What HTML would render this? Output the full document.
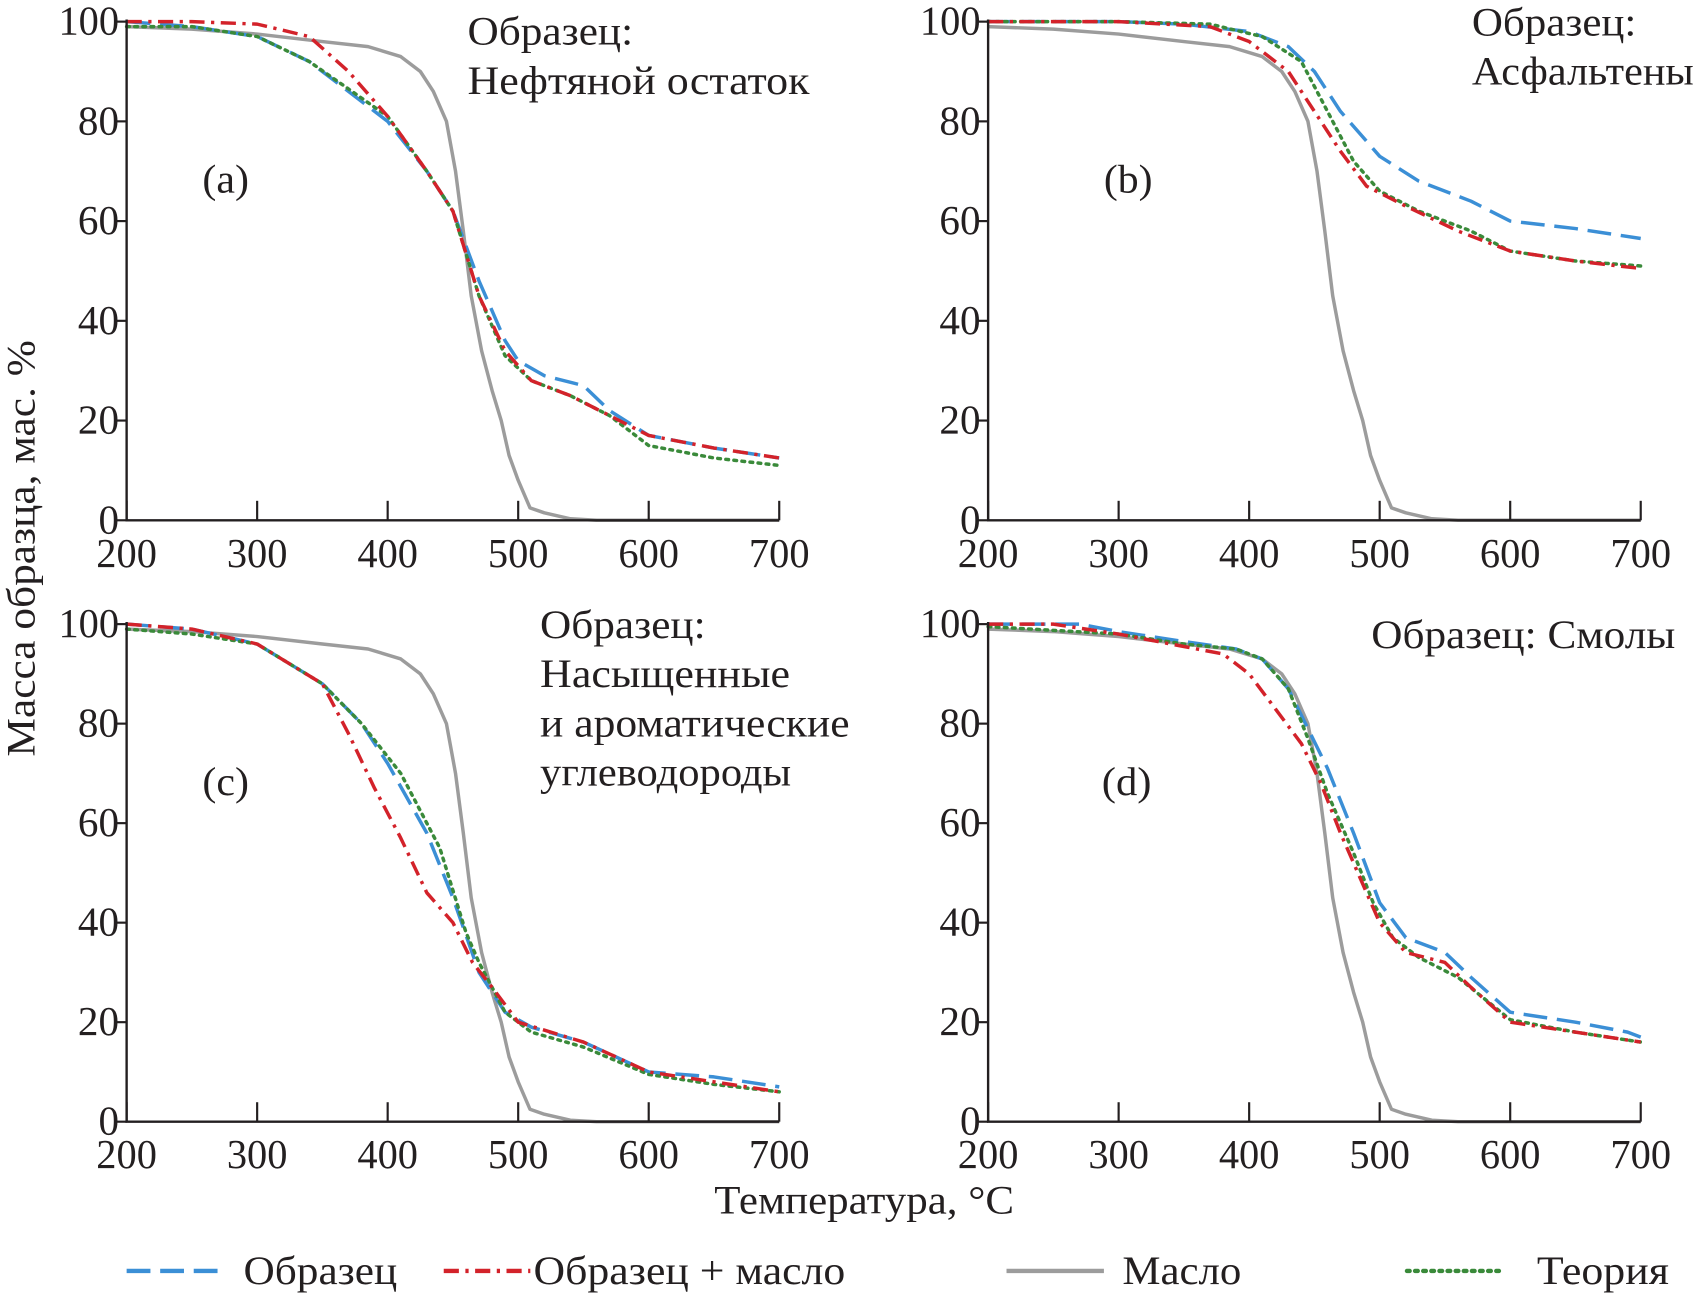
<!DOCTYPE html>
<html><head><meta charset="utf-8"><style>
html,body{margin:0;padding:0;background:#fff}
svg{display:block}
text{font-family:"Liberation Serif","DejaVu Serif",serif;fill:#231f20}
</style></head><body>
<svg id="chart" width="1697" height="1298" viewBox="0 0 1568 1200" preserveAspectRatio="none" xmlns="http://www.w3.org/2000/svg">
<g id="root"></g>
</svg>
<script>
const xTicks=[200,300,400,500,600,700];
const yTicks=[0,20,40,60,80,100];
const oilT=[200,250,300,350,385,410,425,435,445,452,458,464,472,480,487,493,500,509,520,540,560,700];
const oilV=[99,98.5,97.5,96,95,93,90,86,80,70,58,45,34,26,20,13,8,2.5,1.5,0.3,0,0];
const aBlueT=[200,250,300,340,400,430,450,470,490,500,520,550,570,600,650,700];
const aBlueV=[100,99,97,92,80,70,62,48,36,32,29,27,22,17,14.5,12.5];
const aRedT=[200,250,300,340,370,400,430,450,470,490,510,540,570,600,650,700];
const aRedV=[100,100,99.5,97,90,81,70,62,45,34,28,25,21,17,14.5,12.5];
const aGreenT=[200,250,300,340,400,430,450,470,490,510,540,570,600,650,700];
const aGreenV=[99,99,97,92,81,70,62,45,33,28,25,21,15,12.5,11];
const bBlueT=[200,300,350,400,430,450,470,500,530,570,600,650,700];
const bBlueV=[100,100,99.5,98,95,90,82,73,68,64,60,58.5,56.5];
const bRedT=[200,300,370,400,430,450,470,490,520,560,600,650,700];
const bRedV=[100,100,99,96,90,82,74,67,63,58,54,52,50.5];
const bGreenT=[200,300,370,410,440,460,480,500,530,570,600,650,700];
const bGreenV=[100,100,99.5,97,92,82,72,66,62,58,54,52,51];
const cBlueT=[200,250,300,350,380,400,430,450,470,490,510,550,600,650,700];
const cBlueV=[100,99,96,88,80,72,58,45,30,22,19,16,10,9,7];
const cRedT=[200,250,300,350,370,390,410,430,450,465,480,500,550,600,650,700];
const cRedV=[100,99,96,88,78,67,57,46,40,32,27,20,16,10,8,6];
const cGreenT=[200,250,300,350,380,410,440,460,470,490,510,550,600,650,700];
const cGreenV=[99,98,96,88,80,70,55,38,32,22,18,15,9.5,7.5,6];
const dBlueT=[200,270,300,350,390,410,430,445,460,480,500,520,550,570,600,650,690,700];
const dBlueV=[100,100,98.5,96.5,95,93,87,79,71,58,44,37,34,29,22,20,18,17];
const dRedT=[200,250,300,350,380,400,420,440,455,470,490,500,520,550,570,600,650,700];
const dRedV=[100,100,98,95.5,94,90,83,76,68,58,46,40,34,32,27,20,18,16];
const dGreenT=[200,300,350,390,410,430,445,460,480,495,510,530,560,600,650,700];
const dGreenV=[99.5,98,96,95,93,87,77,66,54,44,37,33,29,20.5,18,16];

const panels=[
 {id:'a',x0:117,x1:720,y0:481,y1:20,blue:[aBlueT,aBlueV],red:[aRedT,aRedV],green:[aGreenT,aGreenV]},
 {id:'b',x0:913,x1:1516,y0:481,y1:20,blue:[bBlueT,bBlueV],red:[bRedT,bRedV],green:[bGreenT,bGreenV]},
 {id:'c',x0:117,x1:720,y0:1037,y1:577,blue:[cBlueT,cBlueV],red:[cRedT,cRedV],green:[cGreenT,cGreenV]},
 {id:'d',x0:913,x1:1516,y0:1037,y1:577,blue:[dBlueT,dBlueV],red:[dRedT,dRedV],green:[dGreenT,dGreenV]}
];
const NS='http://www.w3.org/2000/svg';
const root=document.getElementById('root');
function mk(tag,attrs,parent){const e=document.createElementNS(NS,tag);for(const k in attrs)e.setAttribute(k,attrs[k]);(parent||root).appendChild(e);return e;}
const styles={
 oil:{stroke:'#9c9c9c','stroke-width':3.2},
 blue:{stroke:'#3b8fd6','stroke-width':3.2,'stroke-dasharray':'22 9'},
 red:{stroke:'#d3222a','stroke-width':3.2,'stroke-dasharray':'14 6 3 6'},
 green:{stroke:'#3a8a3a','stroke-width':3.2,'stroke-dasharray':'2.5 5','stroke-linecap':'round'}
};
const tickW={1:19,2:38,3:56};
panels.forEach(p=>{
 const g=mk('g',{});
 
 
 const sx=t=>p.x0+(t-200)/500*(p.x1-p.x0);
 const sy=v=>p.y0+(v/100)*(p.y1-p.y0);
 const line=(T,V,st,name)=>{
  const d=T.map((t,i)=>(i?'L':'M')+sx(t).toFixed(1)+','+sy(V[i]).toFixed(1)).join('');
  const e=mk('path',Object.assign({d:d,fill:'none','stroke-linejoin':'round'},st),g);
  
  
 };
 line(oilT,oilV,styles.oil,'oil-line-'+p.id);
 line(p.blue[0],p.blue[1],styles.blue,'sample-line-'+p.id);
 line(p.green[0],p.green[1],styles.green,'theory-line-'+p.id);
 line(p.red[0],p.red[1],styles.red,'sample-oil-line-'+p.id);
 const ax=mk('path',{d:`M${p.x0},${p.y1-2}L${p.x0},${p.y0}L${p.x1},${p.y0}`,fill:'none',stroke:'#231f20','stroke-width':2.2},g);
 
 
 xTicks.forEach(t=>{
  mk('line',{x1:sx(t),x2:sx(t),y1:p.y0,y2:p.y0-18,stroke:'#231f20','stroke-width':2},g);
  const tx=mk('text',{x:sx(t),y:p.y0+43,'text-anchor':'middle','font-size':38,textLength:56,lengthAdjust:'spacingAndGlyphs'},g);
  tx.textContent=t;
  
  
 });
 yTicks.forEach(v=>{
  mk('line',{x1:p.x0,x2:p.x0-10,y1:sy(v),y2:sy(v),stroke:'#231f20','stroke-width':2},g);
  const s=String(v);
  const tx=mk('text',{x:p.x0-7,y:sy(v)+12,'text-anchor':'end','font-size':38,textLength:tickW[s.length],lengthAdjust:'spacingAndGlyphs'},g);
  tx.textContent=s;
  
  
 });
});
function txt(x,y,s,size,name,w,anchor){const a={x:x,y:y,'font-size':size,'text-anchor':anchor||'start'};
 if(w){a.textLength=w;a.lengthAdjust='spacingAndGlyphs';}
 const e=mk('text',a);e.textContent=s;
 
 
 return e;}
txt(432,41,'Образец:',37,'panel-a-title',153);
txt(432,87,'Нефтяной остаток',37,'panel-a-title',316);
txt(187,178,'(a)',37,'panel-a-label',43);
txt(1360,33,'Образец:',37,'panel-b-title',152);
txt(1360,78,'Асфальтены',37,'panel-b-title',205);
txt(1020,178,'(b)',37,'panel-b-label',45);
txt(499,590,'Образец:',37,'panel-c-title',153);
txt(499,635,'Насыщенные',37,'panel-c-title',231);
txt(499,681,'и ароматические',37,'panel-c-title',286);
txt(499,726,'углеводороды',37,'panel-c-title',232);
txt(187,735,'(c)',37,'panel-c-label',43);
txt(1267,599,'Образец: Смолы',37,'panel-d-title',281);
txt(1018,735,'(d)',37,'panel-d-label',46);
txt(660,1122,'Температура, °C',37,'x-axis-title',277);
const yl=txt(0,0,'Масса образца,  мас. %',37,'y-axis-title',385,'middle');
yl.setAttribute('transform','translate(32,507) rotate(-90)');
const leg=[[117,210,'blue',225,'Образец',142],[410,490,'red',493,'Образец + масло',288],[930,1020,'oil',1037,'Масло',110],[1300,1390,'green',1420,'Теория',122]];
leg.forEach(l=>{
 const e=mk('line',Object.assign({x1:l[0],x2:l[1],y1:1175,y2:1175},styles[l[2]],{'stroke-width':4}));
 
 
 txt(l[3],1187,l[4],37,'legend-entry',l[5]);
});
</script>
</body></html>
